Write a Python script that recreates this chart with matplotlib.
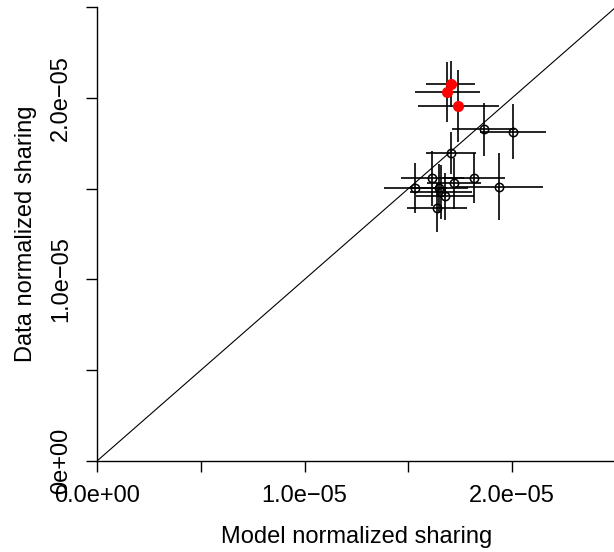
import matplotlib
matplotlib.use("Agg")
import matplotlib.pyplot as plt
import numpy as np

plt.rcParams['font.family'] = ['Liberation Sans', 'DejaVu Sans']

# open (black) points: model vs data, with errors (all in units of 1e-6)
model_x = [18.62, 20.05, 17.05, 16.16, 18.15, 15.34, 16.47, 17.19, 19.36, 16.77, 16.58, 16.39]
data_y = [18.27, 18.14, 16.94, 15.56, 15.58, 15.03, 15.03, 15.29, 15.10, 14.57, 14.81, 13.94]
model_err = [1.5, 1.6, 1.2, 1.5, 1.5, 1.5, 1.4, 1.3, 2.1, 1.4, 1.5, 1.45]
data_err = [1.47, 1.5, 1.15, 1.5, 1.4, 1.4, 1.3, 1.4, 1.85, 1.3, 1.5, 1.35]

# highlighted (red) points
red_x = [17.03, 16.88, 17.41]
red_y = [20.77, 20.31, 19.54]
red_xerr = [1.16, 1.55, 1.95]
red_yerr = [1.25, 1.65, 2.0]

scale = 1e-6
ticks = [0, 0.5e-5, 1.0e-5, 1.5e-5, 2.0e-5, 2.5e-5]
tick_labels = ["0.0e+00", "", "1.0e\u221205", "", "2.0e\u221205", ""]
ytick_labels = ["0e+00", "", "1.0e\u221205", "", "2.0e\u221205", ""]

FS = 17

fig = plt.figure(figsize=(6.14, 5.52), dpi=100)
ax = fig.add_axes([97/614, 91/552, 519/614, 454/552])

# error bars first, then the points on top
ax.errorbar(np.array(model_x) * scale, np.array(data_y) * scale,
            xerr=np.array(model_err) * scale, yerr=np.array(data_err) * scale,
            fmt='none', ecolor='black', elinewidth=1.2, capsize=0, zorder=2)
ax.errorbar(np.array(red_x) * scale, np.array(red_y) * scale,
            xerr=np.array(red_xerr) * scale, yerr=np.array(red_yerr) * scale,
            fmt='none', ecolor='black', elinewidth=1.2, capsize=0, zorder=2)
ax.plot(np.array(model_x) * scale, np.array(data_y) * scale, 'o',
        mfc='none', mec='black', ms=6, mew=1.1, zorder=3)
ax.plot(np.array(red_x) * scale, np.array(red_y) * scale, 'o',
        color='red', ms=7, zorder=4)

# y = x line
ax.plot([0, 2.5e-5], [0, 2.5e-5], color='black', lw=0.8, zorder=1)

ax.set_xlim(0, 2.5e-5)
ax.set_ylim(0, 2.5e-5)
for side in ['top', 'right']:
    ax.spines[side].set_visible(False)
for side in ['left', 'bottom']:
    ax.spines[side].set_linewidth(1.0)

ax.set_xticks(ticks)
ax.set_xticklabels(tick_labels, fontsize=FS)
ax.set_yticks(ticks)
ax.set_yticklabels(ytick_labels, fontsize=FS, rotation=90, va='center')
ax.tick_params(direction='out', length=8, width=1.0)
ax.tick_params(axis='x', pad=9)
ax.tick_params(axis='y', pad=10)

ax.set_xlabel("Model normalized sharing", fontsize=FS, labelpad=14)
ax.set_ylabel("Data normalized sharing", fontsize=FS, labelpad=9.5)

fig.savefig("out.png", dpi=100)
